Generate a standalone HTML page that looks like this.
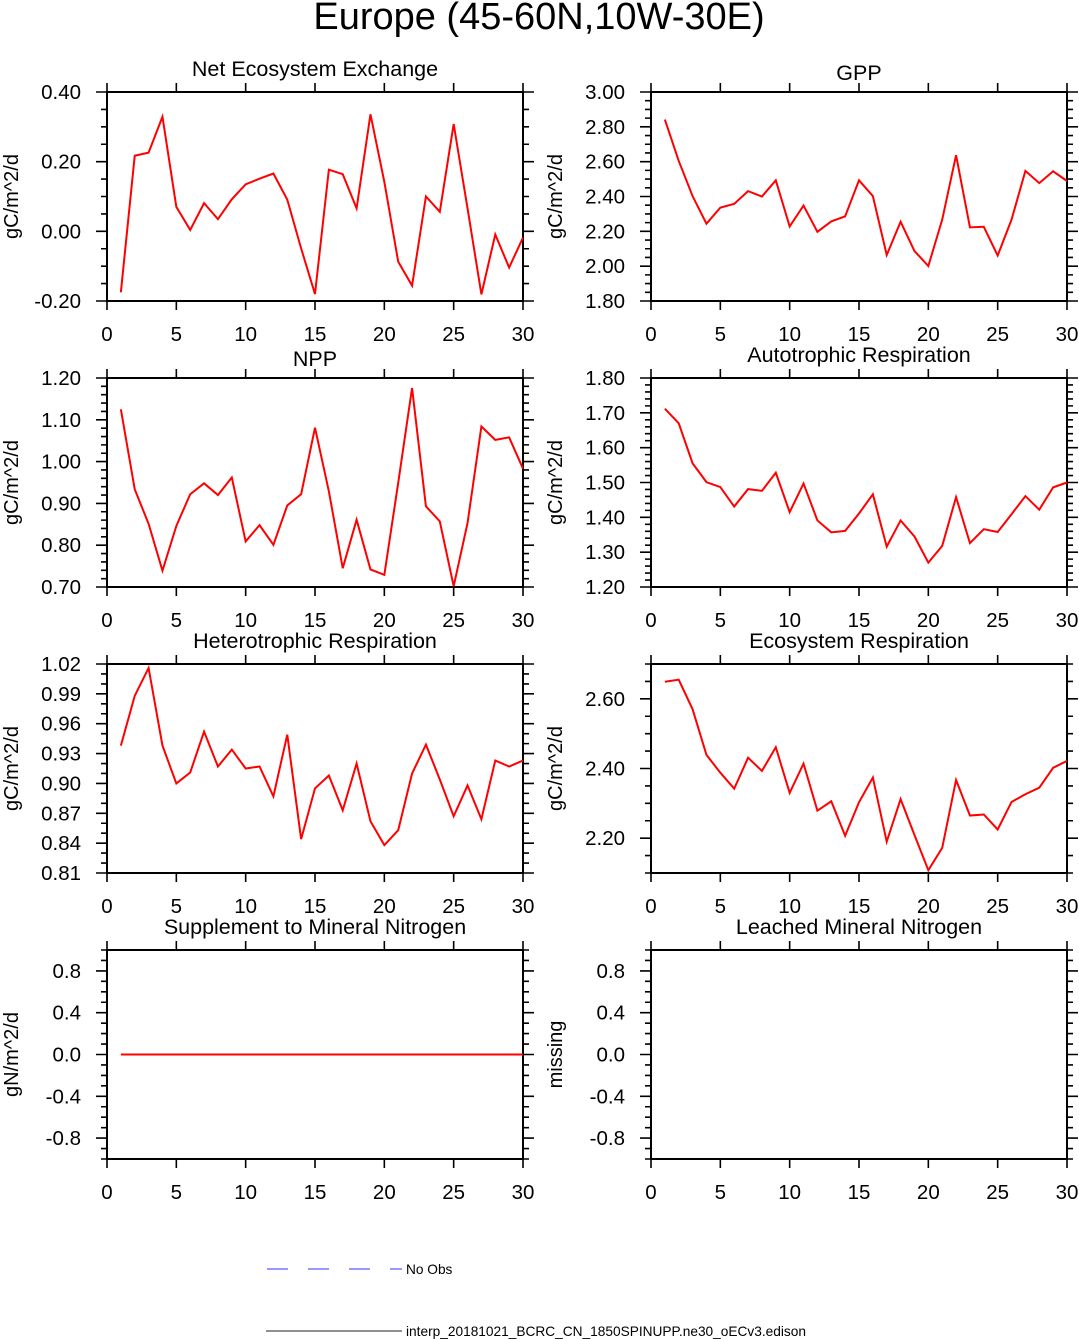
<!DOCTYPE html>
<html><head><meta charset="utf-8"><style>
html,body{margin:0;padding:0;background:#fff;}
svg{display:block;font-family:"Liberation Sans",Arial,sans-serif;}
</style></head><body>
<svg id="fig" width="1079" height="1339" viewBox="0 0 1079 1339" xmlns="http://www.w3.org/2000/svg">
<text x="539" y="29" font-size="38" text-anchor="middle">Europe (45-60N,10W-30E)</text>
<g id="panels"></g>
<g>
<line x1="267" y1="1269" x2="402" y2="1269" stroke="#5a5aff" stroke-width="1.2" stroke-dasharray="21,20"/>
<text x="406" y="1274" font-size="13.7">No Obs</text>
<line x1="266" y1="1331" x2="402" y2="1331" stroke="#222" stroke-width="1"/>
<text x="406" y="1336" font-size="13.7">interp_20181021_BCRC_CN_1850SPINUPP.ne30_oECv3.edison</text>
</g>
</svg>
<script>
const days = [1,2,3,4,5,6,7,8,9,10,11,12,13,14,15,16,17,18,19,20,21,22,23,24,25,26,27,28,29,30];
const xTicks = [0,5,10,15,20,25,30];
const neeValues = [-0.175,0.217,0.226,0.329,0.070,0.004,0.081,0.035,0.092,0.135,0.151,0.166,0.091,-0.049,-0.180,0.177,0.164,0.066,0.336,0.142,-0.087,-0.156,0.100,0.056,0.308,0.066,-0.181,-0.009,-0.104,-0.018];
const gppValues = [2.842,2.604,2.402,2.244,2.336,2.358,2.431,2.400,2.493,2.228,2.348,2.197,2.257,2.286,2.493,2.402,2.064,2.255,2.087,2.001,2.267,2.637,2.223,2.226,2.061,2.267,2.547,2.477,2.545,2.489];
const nppValues = [1.125,0.934,0.851,0.739,0.846,0.922,0.948,0.920,0.962,0.809,0.848,0.801,0.895,0.922,1.081,0.929,0.745,0.861,0.742,0.729,0.949,1.176,0.893,0.857,0.702,0.853,1.084,1.052,1.058,0.983];
const arValues = [1.712,1.670,1.555,1.501,1.487,1.431,1.481,1.476,1.528,1.415,1.497,1.391,1.357,1.361,1.411,1.466,1.316,1.391,1.345,1.270,1.318,1.458,1.326,1.366,1.358,1.409,1.461,1.422,1.486,1.500];
const hrValues = [0.938,0.988,1.016,0.938,0.900,0.911,0.952,0.917,0.934,0.915,0.917,0.887,0.949,0.844,0.895,0.908,0.873,0.920,0.862,0.838,0.853,0.910,0.939,0.904,0.867,0.898,0.864,0.923,0.917,0.923];
const erValues = [2.649,2.655,2.570,2.439,2.388,2.342,2.431,2.393,2.461,2.330,2.414,2.279,2.306,2.207,2.303,2.374,2.190,2.312,2.209,2.108,2.172,2.367,2.265,2.268,2.225,2.304,2.326,2.345,2.402,2.422];
const snValues = [0,0,0,0,0,0,0,0,0,0,0,0,0,0,0,0,0,0,0,0,0,0,0,0,0,0,0,0,0,0];
const neeTicks = [0.40,0.20,0.00,-0.20];
const gppTicks = [3.00,2.80,2.60,2.40,2.20,2.00,1.80];
const nppTicks = [1.20,1.10,1.00,0.90,0.80,0.70];
const arTicks = [1.80,1.70,1.60,1.50,1.40,1.30,1.20];
const hrTicks = [1.02,0.99,0.96,0.93,0.90,0.87,0.84,0.81];
const erTicks = [2.60,2.40,2.20];
const nTicks = [0.8,0.4,0.0,-0.4,-0.8];

const NS="http://www.w3.org/2000/svg";
const root=document.getElementById('panels');
function mk(tag,attrs,parent){const e=document.createElementNS(NS,tag);for(const k in attrs)e.setAttribute(k,attrs[k]);parent.appendChild(e);return e;}

const panels=[
 {key:'nee',title:'Net Ecosystem Exchange',ylab:'gC/m^2/d',vals:neeValues,ticks:neeTicks,min:-0.20,max:0.40,minor:0.05,dec:2,col:0,row:0,ty:76},
 {key:'gpp',title:'GPP',ylab:'gC/m^2/d',vals:gppValues,ticks:gppTicks,min:1.80,max:3.00,minor:0.05,dec:2,col:1,row:0,ty:80},
 {key:'npp',title:'NPP',ylab:'gC/m^2/d',vals:nppValues,ticks:nppTicks,min:0.70,max:1.20,minor:0.02,dec:2,col:0,row:1,ty:366},
 {key:'ar',title:'Autotrophic Respiration',ylab:'gC/m^2/d',vals:arValues,ticks:arTicks,min:1.20,max:1.80,minor:0.02,dec:2,col:1,row:1,ty:362},
 {key:'hr',title:'Heterotrophic Respiration',ylab:'gC/m^2/d',vals:hrValues,ticks:hrTicks,min:0.81,max:1.02,minor:0.01,dec:2,col:0,row:2,ty:648},
 {key:'er',title:'Ecosystem Respiration',ylab:'gC/m^2/d',vals:erValues,ticks:erTicks,min:2.10,max:2.70,minor:0.05,dec:2,col:1,row:2,ty:648},
 {key:'sn',title:'Supplement to Mineral Nitrogen',ylab:'gN/m^2/d',vals:snValues,ticks:nTicks,min:-1.0,max:1.0,minor:0.1,dec:1,col:0,row:3,ty:934},
 {key:'ln',title:'Leached Mineral Nitrogen',ylab:'missing',vals:null,ticks:nTicks,min:-1.0,max:1.0,minor:0.1,dec:1,col:1,row:3,ty:934}
];
const lefts=[107,651], tops=[92,378,664,950], W=416, H=209;

panels.forEach(p=>{
  const L=lefts[p.col],T=tops[p.row],R=L+W,B=T+H;
  const g=mk('g',{},root);
  
  
  const xs=v=>L+v/30*W;
  const ys=v=>B-(v-p.min)/(p.max-p.min)*H;
  const t=mk('text',{x:(L+R)/2,y:p.ty,'font-size':21.5,'text-anchor':'middle'},g);
  t.textContent=p.title;
  
  
  const yl=mk('text',{transform:`translate(${L-89},${(T+B)/2}) rotate(-90)`,'font-size':20,'text-anchor':'middle'},g);
  yl.textContent=p.ylab;
  
  
  let tp='';
  xTicks.forEach(v=>{const x=xs(v);tp+=`M${x},${T}v-9M${x},${B}v9`;
    const lb=mk('text',{x:x,y:B+40,'font-size':20.5,'text-anchor':'middle'},g);lb.textContent=v;
    
    });
  const n=Math.round((p.max-p.min)/p.minor);
  for(let i=0;i<=n;i++){const v=p.min+i*p.minor;const y=ys(v);tp+=`M${L},${y}h-6M${R},${y}h6`;}
  p.ticks.forEach(v=>{const y=ys(v);tp+=`M${L},${y}h-11M${R},${y}h11`;
    const lb=mk('text',{x:L-26,y:y+7,'font-size':20.5,'text-anchor':'end'},g);lb.textContent=v.toFixed(p.dec);
    
    });
  const tk=mk('path',{d:tp,stroke:'#000','stroke-width':1.6,fill:'none'},g);
  
  
  const fr=mk('rect',{x:L,y:T,width:W,height:H,fill:'none',stroke:'#000','stroke-width':2},g);
  
  
  if(p.vals){
    const pts=p.vals.map((v,i)=>xs(days[i])+','+ys(v)).join(' ');
    const ln=mk('polyline',{points:pts,fill:'none',stroke:'#f00','stroke-width':2,'stroke-linejoin':'miter'},g);
    
    
  }
});
</script>
</body></html>
